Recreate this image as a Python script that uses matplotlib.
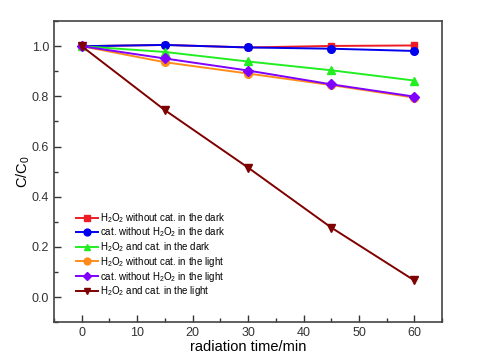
import numpy as np
import matplotlib
matplotlib.use('Agg')
from matplotlib import pyplot as plt
from matplotlib.ticker import MultipleLocator

plt.rcParams['font.family'] = 'Liberation Sans'
plt.rcParams['mathtext.fontset'] = 'custom'
plt.rcParams['mathtext.rm'] = 'Liberation Sans'
plt.rcParams['mathtext.it'] = 'Liberation Sans'

# time points (min)
t = [0, 15, 30, 45, 60]
h2o2_dark = [1.0, 1.005, 0.995, 1.001, 1.003]
cat_dark = [1.0, 1.005, 0.995, 0.99, 0.981]
both_dark = [1.0, 0.977, 0.939, 0.904, 0.863]
h2o2_light = [1.0, 0.936, 0.891, 0.845, 0.795]
cat_light = [1.0, 0.951, 0.903, 0.848, 0.799]
both_light = [1.0, 0.745, 0.516, 0.277, 0.066]

labels = ['H$_2$O$_2$ without cat. in the dark',
          'cat. without H$_2$O$_2$ in the dark',
          'H$_2$O$_2$ and cat. in the dark',
          'H$_2$O$_2$ without cat. in the light',
          'cat. without H$_2$O$_2$ in the light',
          'H$_2$O$_2$ and cat. in the light']

series = [h2o2_dark, cat_dark, both_dark, h2o2_light, cat_light, both_light]
colors = ['#ee1c25', '#0000ee', '#22ee22', '#ff8c1a', '#8000ff', '#7f0000']
markers = ['s', 'o', '^', 'o', 'D', 'v']
msizes = [5, 5.5, 5.5, 5.5, 5, 5.5]

fig = plt.figure(figsize=(4.78, 3.64), dpi=100)
ax = fig.add_axes([0.113, 0.115, 0.812, 0.827])

for y, c, m, ms, lab in zip(series, colors, markers, msizes, labels):
    ax.plot(t, y, color=c, marker=m, markersize=ms, lw=1.4, label=lab)

ax.set_xlim(-5, 65)
ax.set_ylim(-0.1, 1.1)
ax.xaxis.set_major_locator(MultipleLocator(10))
ax.xaxis.set_minor_locator(MultipleLocator(5))
ax.yaxis.set_major_locator(MultipleLocator(0.2))
ax.yaxis.set_minor_locator(MultipleLocator(0.1))
ax.yaxis.set_major_formatter(matplotlib.ticker.FormatStrFormatter('%.1f'))
ax.tick_params(which='both', direction='in', top=False, right=False, labelsize=9, colors='#333333')
ax.tick_params(which='major', length=5, width=1)
ax.tick_params(which='minor', length=3, width=1)
for s in ax.spines.values():
    s.set_linewidth(1.2)
    s.set_color('#444444')

ax.set_xlabel('radiation time/min', fontsize=10.5, labelpad=1)
ax.set_ylabel('C/C$_0$', fontsize=10.5, labelpad=0)

ax.legend(loc='lower left', bbox_to_anchor=(0.033, 0.05), frameon=False,
          fontsize=7, handlelength=2.3, handletextpad=0.2, labelspacing=0.08,
          markerscale=0.9)

fig.savefig('out.png', dpi=100)
